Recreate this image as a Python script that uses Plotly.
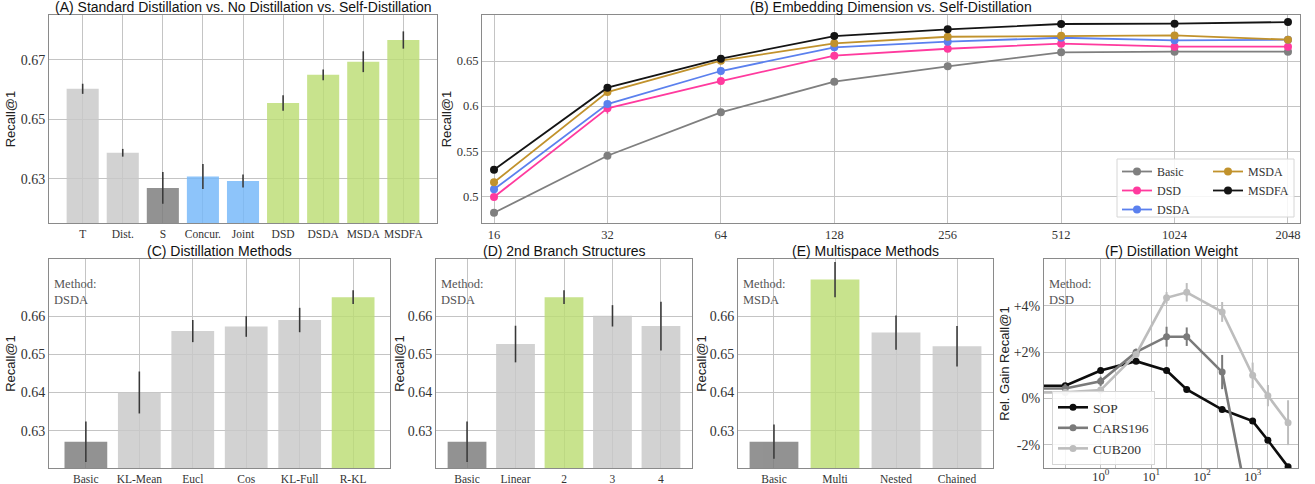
import plotly.graph_objects as go

# ---------------- data ----------------
# (A) Standard Distillation vs. No Distillation vs. Self-Distillation
a_labels = ["T", "Dist.", "S", "Concur.", "Joint", "DSD", "DSDA", "MSDA", "MSDFA"]
a_values = [0.6603, 0.6388, 0.6270, 0.6308, 0.6293, 0.6555, 0.6650, 0.6694, 0.6767]
a_errors = [0.0017, 0.0013, 0.0053, 0.0042, 0.0022, 0.0026, 0.0018, 0.0035, 0.0029]
a_kinds = ["light", "light", "dark", "blue", "blue", "green", "green", "green", "green"]

# (B) Embedding Dimension vs. Self-Distillation
b_dims = ["16", "32", "64", "128", "256", "512", "1024", "2048"]
b_basic = [0.4818, 0.5450, 0.5931, 0.6271, 0.6441, 0.6596, 0.6603, 0.6603]
b_dsd = [0.4992, 0.5976, 0.6278, 0.6559, 0.6636, 0.6692, 0.6659, 0.6659]
b_dsda = [0.5078, 0.6023, 0.6389, 0.6652, 0.6714, 0.6758, 0.6729, 0.6736]
b_msda = [0.5155, 0.6156, 0.6504, 0.6696, 0.6769, 0.6780, 0.6784, 0.6736]
b_msdfa = [0.5295, 0.6204, 0.6526, 0.6777, 0.6851, 0.6910, 0.6914, 0.6932]
b_err_basic = [0.002, 0.002, 0.002, 0.002, 0.002, 0.002, 0.002, 0.002]
b_err_dsd = [0.002, 0.006, 0.002, 0.002, 0.002, 0.002, 0.002, 0.002]
b_err_dsda = [0.002, 0.002, 0.002, 0.002, 0.002, 0.002, 0.002, 0.002]
b_err_msda = [0.002, 0.002, 0.002, 0.002, 0.002, 0.002, 0.002, 0.002]
b_err_msdfa = [0.002, 0.002, 0.002, 0.002, 0.002, 0.002, 0.002, 0.002]

# (C) Distillation Methods
c_labels = ["Basic", "KL-Mean", "Eucl", "Cos", "KL-Full", "R-KL"]
c_values = [0.6271, 0.6400, 0.6561, 0.6573, 0.6590, 0.6650]
c_errors = [0.0053, 0.0055, 0.0029, 0.0027, 0.0032, 0.0018]
c_kinds = ["dark", "light", "light", "light", "light", "green"]

# (D) 2nd Branch Structures
d_labels = ["Basic", "Linear", "2", "3", "4"]
d_values = [0.6271, 0.6527, 0.6650, 0.6601, 0.6574]
d_errors = [0.0053, 0.0048, 0.0018, 0.0028, 0.0064]
d_kinds = ["dark", "light", "green", "light", "light"]

# (E) Multispace Methods
e_labels = ["Basic", "Multi", "Nested", "Chained"]
e_values = [0.6271, 0.6696, 0.6557, 0.6521]
e_errors = [0.0045, 0.0046, 0.0045, 0.0053]
e_kinds = ["dark", "green", "light", "light"]

# (F) Distillation Weight (relative gain in %)
f_weights = [0.01, 0.2, 1, 5, 20, 50, 250, 1000, 2000, 5000]
f_sop = [0.55, 0.55, 1.21, 1.61, 1.21, 0.39, -0.48, -0.98, -1.81, -2.96]
f_sop_err = [0.08, 0.08, 0.08, 0.08, 0.08, 0.08, 0.08, 0.08, 0.08, 0.08]
f_cars = [0.43, 0.43, 0.74, 2.0, 2.67, 2.67, 1.14, -5.6]
f_cars_err = [0.2, 0.2, 0.2, 0.15, 0.43, 0.4, 0.74, 0.5]
f_cub = [0.26, 0.26, 0.36, 1.9, 4.35, 4.59, 3.74, 1.0, 0.12, -1.05]
f_cub_err = [0.15, 0.15, 0.15, 0.15, 0.25, 0.4, 0.43, 0.55, 0.46, 0.97]
f_major = [1, 10, 100, 1000]
f_major_text = ["10<sup>0</sup>", "10<sup>1</sup>", "10<sup>2</sup>", "10<sup>3</sup>"]
f_minor = [0.2, 2, 20, 200, 2000]

# ---------------- styling ----------------
W, H = 1315, 484
SERIF = "Liberation Serif"
SANS = "Liberation Sans"
BAR_ALPHA = 0.82
KIND_COLORS = {"light": "#d3d3d3", "dark": "#939393", "blue": "#8ec5fb", "green": "#c8e38e"}
GRID = "#c4c4c4"
SPINE = "#8a8a8a"


def solid_under_alpha(hexcol, a=BAR_ALPHA):
    # colour that, drawn with opacity a over white, appears as hexcol
    h = hexcol.lstrip("#")
    rgb = [int(h[i:i + 2], 16) for i in (0, 2, 4)]
    out = [max(0, min(255, round((c - (1 - a) * 255) / a))) for c in rgb]
    return "rgb(%d,%d,%d)" % tuple(out)


def px_x(p):
    return p / W


def px_y(p):
    return 1 - p / H


# panel rectangles in pixels: (left, right, top, bottom)
panels = {
    "A": (49, 437, 15, 223),
    "B": (482, 1300, 15, 223),
    "C": (49, 390, 259, 468),
    "D": (436, 692, 259, 468),
    "E": (738, 993, 259, 468),
    "F": (1044, 1298, 259, 468),
}
axis_ids = {"A": "", "B": "2", "C": "3", "D": "4", "E": "5", "F": "6"}

fig = go.Figure()


def add_bars(key, labels, values, errors, kinds):
    n = axis_ids[key]
    fig.add_trace(go.Bar(
        x=labels, y=values, width=0.8,
        marker=dict(color=[solid_under_alpha(KIND_COLORS[k]) for k in kinds], line=dict(width=0)),
        opacity=BAR_ALPHA,
        error_y=dict(type="data", array=errors, visible=True, color="#1a1a1a", thickness=1.6, width=0),
        xaxis="x" + n, yaxis="y" + n, showlegend=False, hoverinfo="x+y",
    ))


add_bars("A", a_labels, a_values, a_errors, a_kinds)
add_bars("C", c_labels, c_values, c_errors, c_kinds)
add_bars("D", d_labels, d_values, d_errors, d_kinds)
add_bars("E", e_labels, e_values, e_errors, e_kinds)

# (B) lines
b_series = [
    ("Basic", b_basic, b_err_basic, "#7f7f7f", "legend", 1),
    ("DSD", b_dsd, b_err_dsd, "#ff3a9e", "legend", 2),
    ("DSDA", b_dsda, b_err_dsda, "#5b80ee", "legend", 3),
    ("MSDA", b_msda, b_err_msda, "#c1922c", "legend2", 4),
    ("MSDFA", b_msdfa, b_err_msdfa, "#141414", "legend2", 5),
]
for name, vals, errs, col, leg, rank in b_series:
    fig.add_trace(go.Scatter(
        x=b_dims, y=vals, name=name, mode="lines+markers",
        line=dict(color=col, width=1.8), marker=dict(color=col, size=8),
        error_y=dict(type="data", array=errs, visible=True, color=col, thickness=1.5, width=0),
        xaxis="x2", yaxis="y2", legend=leg, legendrank=rank,
    ))

# (F) lines
f_series = [
    ("SOP", f_weights, f_sop, f_sop_err, "#0d0d0d"),
    ("CARS196", f_weights[:len(f_cars)], f_cars, f_cars_err, "#7a7a7a"),
    ("CUB200", f_weights, f_cub, f_cub_err, "#bdbdbd"),
]
for name, xs, vals, errs, col in f_series:
    fig.add_trace(go.Scatter(
        x=xs, y=vals, name=name, mode="lines+markers",
        line=dict(color=col, width=2.6), marker=dict(color=col, size=7),
        error_y=dict(type="data", array=errs, visible=True, color=col, thickness=2, width=0),
        xaxis="x6", yaxis="y6", legend="legend3",
    ))

ytickfont = dict(family=SERIF, size=14, color="#333333")
btickfont = dict(family=SERIF, size=12.5, color="#333333")
titlefont = dict(family=SANS, size=13, color="#222222")
common = dict(showline=True, linecolor=SPINE, linewidth=1, mirror=True,
              showgrid=True, gridcolor=GRID, gridwidth=1, zeroline=False,
              ticks="", automargin=False, tickangle=0)

layout_axes = {}


def dom(key):
    l, r, t, b = panels[key]
    return [px_x(l), px_x(r)], [px_y(b), px_y(t)]


def n_range(n):
    m = 0.05 * (n - 1 + 0.8)
    return [-0.4 - m, n - 1 + 0.4 + m]


bar_y_common = dict(tickvals=[0.63, 0.64, 0.65, 0.66], ticktext=["0.63", "0.64", "0.65", "0.66"],
                    range=[0.6202, 0.675])

for key, labels, ytick, yrange, ytitle, standoff in [
    ("A", a_labels, [0.63, 0.65, 0.67], [0.6152, 0.6851], "Recall@1", 2),
    ("C", c_labels, None, None, "Recall@1", 2),
    ("D", d_labels, None, None, "Recall@1", 0),
    ("E", e_labels, None, None, "Recall@1", 0),
]:
    n = axis_ids[key]
    xd, yd = dom(key)
    xa = dict(common, domain=xd, anchor="y" + n, type="category", range=n_range(len(labels)),
              categoryorder="array", categoryarray=labels,
              tickfont=dict(family=SERIF, size=11.5, color="#333333"))
    ya = dict(common, domain=yd, anchor="x" + n, tickfont=ytickfont,
              title=dict(text=ytitle, font=titlefont, standoff=standoff))
    if ytick:
        ya.update(tickvals=ytick, ticktext=["%.2f" % v for v in ytick], range=yrange)
    else:
        ya.update(bar_y_common)
    layout_axes["xaxis" + n] = xa
    layout_axes["yaxis" + n] = ya

# B axes
xd, yd = dom("B")
layout_axes["xaxis2"] = dict(common, domain=xd, anchor="y2", type="category", range=[-0.106, 7.106],
                             categoryorder="array", categoryarray=b_dims, tickfont=btickfont)
layout_axes["yaxis2"] = dict(common, domain=yd, anchor="x2", range=[0.4704, 0.701], tickfont=btickfont,
                             tickvals=[0.5, 0.55, 0.6, 0.65], ticktext=["0.5", "0.55", "0.6", "0.65"],
                             title=dict(text="Recall@1", font=titlefont, standoff=2))

# F axes
xd, yd = dom("F")
layout_axes["xaxis6"] = dict(common, domain=xd, anchor="y6", type="log", range=[-1.118, 3.895],
                             tickvals=f_major, ticktext=f_major_text, ticklabelstandoff=-4,
                             tickfont=dict(family=SERIF, size=13, color="#333333"),
                             minor=dict(tickvals=f_minor, showgrid=True, gridcolor=GRID, gridwidth=1, ticks=""))
layout_axes["yaxis6"] = dict(common, domain=yd, anchor="x6", range=[-3.01, 6.03], tickfont=ytickfont,
                             tickvals=[-2, 0, 2, 4], ticktext=["-2%", "0%", "+2%", "+4%"],
                             title=dict(text="Rel. Gain Recall@1", font=titlefont, standoff=1))

# titles
titles = {
    "A": "(A) Standard Distillation vs. No Distillation vs. Self-Distillation",
    "B": "(B) Embedding Dimension vs. Self-Distillation",
    "C": "(C) Distillation Methods",
    "D": "(D) 2nd Branch Structures",
    "E": "(E) Multispace Methods",
    "F": "(F) Distillation Weight",
}
annotations = []
for key, txt in titles.items():
    l, r, t, b = panels[key]
    annotations.append(dict(text=txt, x=px_x((l + r) / 2), y=px_y(t), xref="paper", yref="paper",
                            xanchor="center", yanchor="bottom", yshift=-2, showarrow=False,
                            font=dict(family=SANS, size=14, color="#111111")))

methods = {"C": "DSDA", "D": "DSDA", "E": "MSDA", "F": "DSD"}
for key, m in methods.items():
    l, r, t, b = panels[key]
    annotations.append(dict(text="Method:<br>" + m, x=px_x(l + 3), y=px_y(t + 16), xref="paper", yref="paper",
                            xanchor="left", yanchor="top", align="left", showarrow=False,
                            font=dict(family=SERIF, size=12.5, color="#555555")))

legend_font = dict(family=SERIF, size=12, color="#333333")
fig.update_layout(
    width=W, height=H,
    margin=dict(l=0, r=0, t=0, b=0, autoexpand=False),
    paper_bgcolor="white", plot_bgcolor="white",
    annotations=annotations,
    shapes=[dict(type="rect", xref="paper", yref="paper",
                 x0=px_x(1117), x1=px_x(1294), y0=px_y(217), y1=px_y(159),
                 line=dict(color="#d6d6d6", width=1), fillcolor="rgba(255,255,255,0.85)", layer="above")],
    legend=dict(x=px_x(1117), y=px_y(157), xanchor="left", yanchor="top", bgcolor="rgba(0,0,0,0)",
                borderwidth=0, font=legend_font, tracegroupgap=0),
    legend2=dict(x=px_x(1208), y=px_y(157), xanchor="left", yanchor="top", bgcolor="rgba(0,0,0,0)",
                 borderwidth=0, font=legend_font, tracegroupgap=0),
    legend3=dict(x=px_x(1052), y=px_y(391), xanchor="left", yanchor="top", bgcolor="rgba(255,255,255,0.85)",
                 bordercolor="#d6d6d6", borderwidth=1, font=dict(family=SERIF, size=13.5, color="#333333"),
                 tracegroupgap=0),
    **layout_axes,
)

fig.write_html("out.html", config={"displayModeBar": False},
               post_script="document.body.style.margin='0';")
